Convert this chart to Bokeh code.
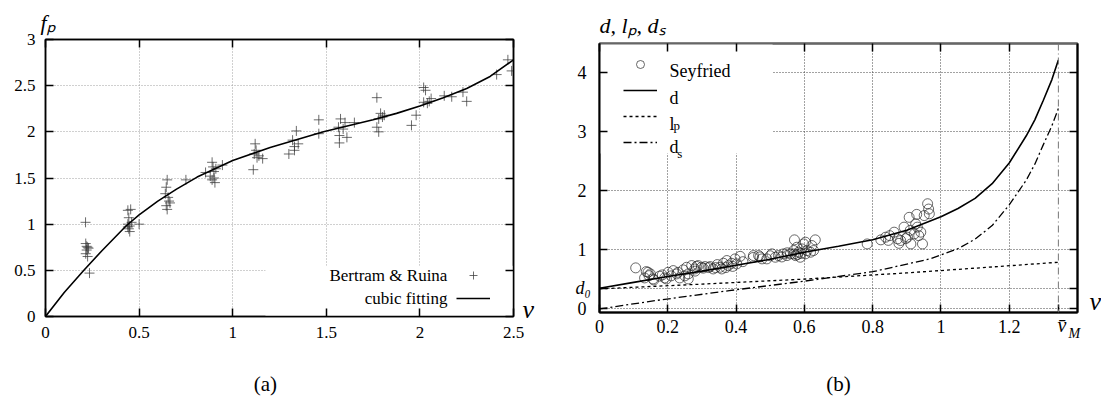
from bokeh.plotting import figure
from bokeh.layouts import row, column
from bokeh.models import (Range1d, FixedTicker, LinearAxis, Label, Legend,
                          LegendItem, BoxAnnotation, Span)
from bokeh.embed import file_html
from bokeh.resources import INLINE

# ---------------- data: panel (a) ----------------
br_v = [0.214, 0.215, 0.22, 0.225, 0.23, 0.22, 0.215, 0.225, 0.235,
        0.44, 0.455, 0.445, 0.44, 0.45, 0.44, 0.445, 0.45, 0.46, 0.50,
        0.65, 0.645, 0.64, 0.655, 0.66, 0.645, 0.65, 0.665, 0.75,
        0.855, 0.89, 0.895, 0.90, 0.89, 0.905, 0.945, 0.88, 0.91, 0.90,
        1.12, 1.115, 1.13, 1.16, 1.11, 1.125, 1.14,
        1.30, 1.33, 1.32, 1.34, 1.35, 1.33, 1.46, 1.46,
        1.576, 1.60, 1.65, 1.565, 1.59, 1.57, 1.61, 1.57,
        1.77, 1.79, 1.80, 1.78, 1.77, 1.78, 1.81,
        1.955, 1.98, 2.02, 2.03, 2.02, 2.04, 2.06, 2.05,
        2.13, 2.17, 2.23, 2.25, 2.41, 2.47, 2.49]
br_f = [1.02, 0.79, 0.76, 0.75, 0.74, 0.72, 0.68, 0.65, 0.47,
        1.15, 1.16, 1.07, 1.00, 0.98, 0.97, 0.95, 0.92, 1.02, 1.00,
        1.48, 1.40, 1.33, 1.29, 1.25, 1.20, 1.16, 1.23, 1.48,
        1.56, 1.67, 1.62, 1.57, 1.48, 1.45, 1.64, 1.52, 1.60, 1.50,
        1.87, 1.76, 1.72, 1.71, 1.59, 1.80, 1.74,
        1.76, 1.80, 1.91, 2.01, 1.87, 1.84, 2.13, 1.98,
        2.14, 2.10, 2.10, 2.05, 2.03, 1.96, 1.94, 1.88,
        2.37, 2.20, 2.16, 2.14, 2.05, 2.00, 2.18,
        2.07, 2.18, 2.48, 2.45, 2.32, 2.31, 2.36, 2.33,
        2.39, 2.38, 2.43, 2.33, 2.62, 2.78, 2.66]
fit_v = [0, 0.1, 0.205, 0.3, 0.43, 0.5, 0.6, 0.7, 0.81, 1.0, 1.2, 1.485, 1.75, 1.875,
         2.0, 2.125, 2.25, 2.375, 2.5]
fit_f = [0, 0.26, 0.5, 0.71, 0.98, 1.10, 1.25, 1.38, 1.51, 1.69, 1.83, 2.0, 2.13, 2.20,
         2.28, 2.37, 2.47, 2.60, 2.78]
a_xticks = [0, 0.5, 1, 1.5, 2, 2.5]
a_xlabels = ["0", "0.5", "1", "1.5", "2", "2.5"]
a_yticks = [0, 0.5, 1, 1.5, 2, 2.5, 3]
a_ylabels = ["0", "0.5", "1", "1.5", "2", "2.5", "3"]

# ---------------- data: panel (b) ----------------
sey_v = [0.106, 0.137, 0.149, 0.132, 0.159, 0.145, 0.142, 0.157, 0.184, 0.191,
         0.176, 0.196, 0.201, 0.216, 0.226, 0.235, 0.245, 0.255, 0.26, 0.26,
         0.27, 0.279, 0.284, 0.289, 0.299, 0.304, 0.309, 0.324, 0.333, 0.345,
         0.353, 0.358, 0.363, 0.373, 0.377, 0.387, 0.397, 0.402, 0.412, 0.42,
         0.451, 0.466, 0.476, 0.49, 0.505, 0.515, 0.524, 0.534, 0.539, 0.549,
         0.559, 0.569, 0.574, 0.578, 0.583, 0.588, 0.593, 0.598, 0.603, 0.608,
         0.618, 0.622, 0.627, 0.632, 0.571, 0.603, 0.59, 0.58,
         0.21, 0.23, 0.25, 0.28, 0.32, 0.34, 0.37, 0.39, 0.45, 0.47, 0.50, 0.55, 0.57,
         0.784, 0.824, 0.838, 0.846, 0.863, 0.873, 0.877, 0.882, 0.892, 0.897,
         0.902, 0.912, 0.922, 0.926, 0.931, 0.941, 0.946, 0.951, 0.929, 0.907,
         0.961, 0.964, 0.966, 0.85, 0.91, 0.935]
sey_d = [0.695, 0.632, 0.593, 0.525, 0.49, 0.564, 0.62, 0.508, 0.576, 0.525,
         0.555, 0.508, 0.62, 0.649, 0.593, 0.525, 0.661, 0.705, 0.593, 0.508,
         0.734, 0.677, 0.72, 0.734, 0.705, 0.69, 0.717, 0.717, 0.677, 0.751,
         0.705, 0.677, 0.773, 0.819, 0.734, 0.773, 0.847, 0.762, 0.89, 0.80,
         0.903, 0.903, 0.847, 0.847, 0.932, 0.875, 0.903, 0.88, 0.932, 0.903,
         0.932, 0.988, 0.903, 1.044, 0.96, 0.875, 1.016, 1.1, 0.932, 0.988,
         0.96, 1.073, 0.988, 1.169, 1.169, 1.13, 0.94, 0.92,
         0.56, 0.62, 0.56, 0.64, 0.70, 0.70, 0.70, 0.72, 0.87, 0.88, 0.90, 0.95, 0.93,
         1.1, 1.169, 1.214, 1.16, 1.299, 1.186, 1.11, 1.158, 1.384, 1.19,
         1.214, 1.1, 1.27, 1.44, 1.384, 1.299, 1.1, 1.58, 1.6, 1.55,
         1.78, 1.69, 1.61, 1.24, 1.33, 1.24]
d_v = [0, 0.1, 0.2, 0.3, 0.4, 0.5, 0.6, 0.7, 0.8, 0.9, 1.0, 1.05, 1.1, 1.15, 1.2, 1.25,
       1.275, 1.3, 1.325, 1.344]
d_d = [0.35, 0.45, 0.55, 0.64, 0.74, 0.84, 0.96, 1.06, 1.17, 1.33, 1.56, 1.70, 1.87, 2.12,
       2.47, 2.93, 3.2, 3.53, 3.88, 4.21]
lp_v = [0, 0.3, 0.6, 0.9, 1.1, 1.344]
lp_d = [0.34, 0.42, 0.505, 0.61, 0.69, 0.79]
ds_v = [0, 0.162, 0.38, 0.6, 0.8, 0.97, 1.05, 1.1, 1.15, 1.2, 1.25, 1.275, 1.3, 1.325, 1.344]
ds_d = [0, 0.14, 0.31, 0.47, 0.63, 0.85, 1.02, 1.18, 1.41, 1.76, 2.18, 2.45, 2.78, 3.1, 3.39]
v_M = 1.344
d_0 = 0.34
b_xticks = [0, 0.2, 0.4, 0.6, 0.8, 1, 1.2, v_M]
b_xlabels = ["0", "0.2", "0.4", "0.6", "0.8", "1", "1.2", ""]
b_yticks = [0, d_0, 1, 2, 3, 4]
b_ylabels = ["0", "", "1", "2", "3", "4"]

SERIF = "Liberation Serif"


def style_axis(ax, ticks, labels, standoff, size, show=True, color="black", width=1.5):
    ax.ticker = FixedTicker(ticks=ticks)
    ax.major_label_overrides = {t: (l if show else "") for t, l in zip(ticks, labels)}
    ax.major_label_text_font = SERIF
    ax.major_label_text_font_size = size if show else "1px"
    ax.major_label_text_color = "black"
    ax.major_label_standoff = standoff if show else 0
    ax.major_tick_in = 8
    ax.major_tick_out = 0
    ax.major_tick_line_color = "black"
    ax.major_tick_line_width = 1.5
    ax.minor_tick_line_color = None
    ax.axis_line_color = color
    ax.axis_line_width = width


def lab(p, side, x, y, text, size, italic=False, align="left", baseline="middle"):
    p.add_layout(Label(x=x, y=y, text=text, text_font=SERIF, text_font_size=size,
                       text_font_style="italic" if italic else "normal",
                       text_align=align, text_baseline=baseline, text_color="black"), side)


# ---------------- panel (a) ----------------
pa = figure(width=537, height=410, x_range=Range1d(0, 2.5), y_range=Range1d(0, 3),
            output_backend="svg", toolbar_location=None,
            min_border_left=45, min_border_right=24, min_border_top=39, min_border_bottom=94)
pa.outline_line_color = "black"
pa.outline_line_width = 1.5
style_axis(pa.xaxis[0], a_xticks, a_xlabels, 10, "17px")
style_axis(pa.yaxis[0], a_yticks, a_ylabels, 10, "17px")
pa.xgrid.ticker = FixedTicker(ticks=a_xticks)
pa.ygrid.ticker = FixedTicker(ticks=a_yticks)
pa.grid.grid_line_color = "#a0a0a0"
pa.grid.grid_line_dash = "1 2"
ta = LinearAxis()
style_axis(ta, a_xticks, a_xlabels, 0, "17px", show=False)
pa.add_layout(ta, "above")
ra = LinearAxis()
style_axis(ra, a_yticks, a_ylabels, 0, "17px", show=False)
pa.add_layout(ra, "right")

sc_a = pa.scatter(br_v, br_f, marker="cross", size=10, line_color="#3a3a3a",
                  line_alpha=0.75, line_width=1)
ln_a = pa.line(fit_v, fit_f, line_color="black", line_width=1.6)

pa.add_layout(BoxAnnotation(left=1.175, right=2.5, bottom=0, top=0.55, fill_color="white",
                            fill_alpha=1.0, line_alpha=0, level="glyph"))
lab(pa, "center", 2.147, 0.444, "Bertram & Ruina", "17px", align="right")
lab(pa, "center", 2.147, 0.195, "cubic fitting", "17px", align="right")
leg_a = Legend(items=[LegendItem(label=" ", renderers=[sc_a]),
                      LegendItem(label=" ", renderers=[ln_a])],
               location=(411, 8), padding=0, margin=0, spacing=3,
               glyph_width=34, glyph_height=20, label_standoff=0, label_width=1,
               label_height=20, label_text_font_size="10px",
               background_fill_alpha=0, border_line_alpha=0)
pa.add_layout(leg_a)

lab(pa, "above", -0.027, 3.186, "f\u209a", "22px", italic=True)
lab(pa, "below", 2.548, 0.075, "v", "26px", italic=True)
lab(pa, "below", 1.175, -0.726, "(a)", "21px", align="center")

# ---------------- panel (b) ----------------
pb = figure(width=564, height=410, x_range=Range1d(0, 1.4), y_range=Range1d(-0.06, 4.491),
            output_backend="svg", toolbar_location=None,
            min_border_left=62, min_border_right=24, min_border_top=43, min_border_bottom=98)
pb.outline_line_color = "#444444"
pb.outline_line_width = 2
style_axis(pb.xaxis[0], b_xticks, b_xlabels, 7, "18px", width=2)
style_axis(pb.yaxis[0], b_yticks, b_ylabels, 13, "18px", width=2)
pb.xgrid.ticker = FixedTicker(ticks=b_xticks[1:-1])
pb.ygrid.ticker = FixedTicker(ticks=b_yticks)
pb.grid.grid_line_color = "#444444"
pb.grid.grid_line_dash = "1 2"
tb = LinearAxis()
style_axis(tb, b_xticks[:-1], b_xlabels[:-1], 0, "18px", show=False, color="#666666", width=2)
pb.add_layout(tb, "above")
rb = LinearAxis()
style_axis(rb, b_yticks, b_ylabels, 0, "18px", show=False, width=2)
pb.add_layout(rb, "right")
pb.add_layout(Span(location=v_M, dimension="height", line_color="#777777",
                   line_dash="7 3 1 3", line_width=1))

sc_b = pb.scatter(sey_v, sey_d, marker="circle", size=10, fill_color=None,
                  line_color="#222222", line_width=0.8, line_alpha=0.85)
ln_d = pb.line(d_v, d_d, line_color="black", line_width=1.6)
ln_lp = pb.line(lp_v, lp_d, line_color="black", line_width=1.3, line_dash="3 3")
ln_ds = pb.line(ds_v, ds_d, line_color="black", line_width=1.3, line_dash="8 3 2 3")

pb.add_layout(BoxAnnotation(left=0, right=0.507, bottom=2.63, top=4.491, fill_color="white",
                            fill_alpha=1.0, line_alpha=0, level="glyph"))
leg_b = Legend(items=[LegendItem(label=" ", renderers=[sc_b]),
                      LegendItem(label=" ", renderers=[ln_d]),
                      LegendItem(label=" ", renderers=[ln_lp]),
                      LegendItem(label=" ", renderers=[ln_ds])],
               location=(24, 160), padding=0, margin=0, spacing=6,
               glyph_width=34, glyph_height=20, label_standoff=0, label_width=1,
               label_height=20, label_text_font_size="10px",
               background_fill_alpha=0, border_line_alpha=0)
pb.add_layout(leg_b)
lab(pb, "center", 0.205, 4.032, "Seyfried", "18px", baseline="alphabetic")
lab(pb, "center", 0.205, 3.575, "d", "18px", baseline="alphabetic")
lab(pb, "center", 0.205, 3.135, "l", "18px", baseline="alphabetic")
lab(pb, "center", 0.217, 3.10, "p", "13px", baseline="alphabetic")
lab(pb, "center", 0.205, 2.745, "d", "18px", baseline="alphabetic")
lab(pb, "center", 0.228, 2.628, "s", "13px", baseline="alphabetic")

lab(pb, "above", 0.0, 4.791, "d, l\u209a, d\u209b", "22px", italic=True)
lab(pb, "left", 1.435, 0.124, "v", "26px", italic=True)
lab(pb, "right", -0.0703, 0.350, "d\u2080", "18px", italic=True)
lab(pb, "below", 1.3415, -0.278, "v\u0304", "20px", italic=True)
lab(pb, "below", 1.374, -0.410, "M", "14px", italic=True)
lab(pb, "below", 0.700, -1.264, "(b)", "21px", align="center")

layout = row(column(pa), column(pb))
open("out.html", "w").write(file_html(layout, INLINE))
